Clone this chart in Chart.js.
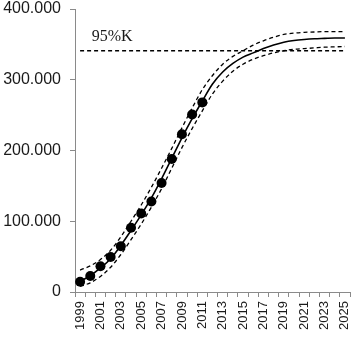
<!DOCTYPE html>
<html>
<head>
<meta charset="utf-8">
<script src="https://cdn.jsdelivr.net/npm/chart.js@4/dist/chart.umd.min.js"></script>
<style>
  html, body { margin: 0; padding: 0; background: #fff; }
  #wrap { width: 355px; height: 345px; position: relative; }
</style>
</head>
<body>
<div id="wrap"><canvas id="chart"></canvas></div>
<script>
const years = ['1999', '2000', '2001', '2002', '2003', '2004', '2005', '2006', '2007', '2008',
    '2009', '2010', '2011', '2012', '2013', '2014', '2015', '2016', '2017', '2018',
    '2019', '2020', '2021', '2022', '2023', '2024', '2025'];
const observed = [14500, 22500, 36500, 49500, 64600, 90800, 111000, 128000, 154000, 188000,
    223000, 251000, 268000];
const fitted = [15000, 23000, 34000, 47000, 66000, 87000, 109000, 133000, 160000, 189000,
    218000, 245000, 270000, 294000, 311000, 323000, 332000, 338000, 344000, 349000,
    353000, 355500, 357000, 358000, 358500, 359000, 359000];
const upper = [31000, 37000, 46000, 59000, 78000, 100000, 123000, 148000, 175000, 203000,
    232000, 260000, 286000, 306000, 322000, 333000, 341000, 349000, 355000, 360000,
    364000, 366000, 367000, 367500, 368000, 368000, 368000];
const lower = [8000, 13000, 22000, 35000, 53000, 74000, 96000, 120000, 146000, 175000,
    204000, 231000, 256000, 280000, 298000, 312000, 322000, 329000, 334000, 338000,
    341000, 343000, 344000, 345000, 346000, 346500, 347000];
const k95 = 341000;
const k95Label = '95%K';
const yTicks = [0, 100000, 200000, 300000, 400000];

const axisColor = '#8a8a8a';
const textColor = '#1a1a1a';

// label above the 95% line
const k95Text = {
    id: 'k95Text',
    afterDatasetsDraw(chart) {
        const ctx = chart.ctx;
        const x = chart.scales.x.getPixelForValue(1) + 1.5;
        const y = chart.scales.y.getPixelForValue(k95) - 10;
        ctx.save();
        ctx.font = '16px "Liberation Serif", serif';
        ctx.fillStyle = textColor;
        ctx.textAlign = 'left';
        ctx.textBaseline = 'alphabetic';
        ctx.fillText(k95Label, x, y);
        ctx.restore();
    }
};

const dashed = {
    borderColor: '#000',
    borderWidth: 1.3,
    borderDash: [4, 3],
    pointRadius: 0,
    fill: false,
    cubicInterpolationMode: 'monotone'
};

new Chart(document.getElementById('chart').getContext('2d'), {
    type: 'line',
    data: {
        labels: years,
        datasets: [
            { label: 'k95', data: years.map(() => k95), ...dashed, cubicInterpolationMode: 'default', tension: 0 },
            { label: 'upper', data: upper, ...dashed },
            { label: 'lower', data: lower, ...dashed },
            {
                label: 'fitted',
                data: fitted,
                borderColor: '#000',
                borderWidth: 1.6,
                pointRadius: 0,
                fill: false,
                cubicInterpolationMode: 'monotone'
            },
            {
                label: 'observed',
                data: observed,
                showLine: false,
                pointRadius: 5,
                pointBackgroundColor: '#000',
                pointBorderColor: '#000',
                pointBorderWidth: 0
            }
        ]
    },
    options: {
        responsive: true,
        maintainAspectRatio: false,
        animation: false,
        layout: { padding: { top: 9, right: 0, left: 0, bottom: 0 } },
        plugins: {
            legend: { display: false },
            tooltip: { enabled: false }
        },
        scales: {
            x: {
                type: 'category',
                offset: true,
                border: { display: true, color: axisColor, width: 1 },
                grid: {
                    offset: true,
                    drawOnChartArea: false,
                    drawTicks: true,
                    tickLength: 5,
                    color: axisColor
                },
                ticks: {
                    autoSkip: false,
                    maxRotation: 90,
                    minRotation: 90,
                    padding: 4,
                    color: textColor,
                    font: { family: '"Liberation Sans", Arial, sans-serif', size: 13 },
                    callback: (v, i) => (i % 2 === 0 ? years[i] : '')
                },
                afterFit(scale) {
                    scale.height = 53;
                    scale.paddingLeft = 0;
                    scale.paddingRight = 0;
                }
            },
            y: {
                min: 0,
                max: 400000,
                border: { display: true, color: axisColor, width: 1 },
                grid: {
                    drawOnChartArea: false,
                    drawTicks: true,
                    tickLength: 5,
                    color: axisColor
                },
                afterBuildTicks(scale) {
                    scale.ticks = yTicks.map(v => ({ value: v }));
                },
                ticks: {
                    padding: 9,
                    color: textColor,
                    font: { family: '"Liberation Sans", Arial, sans-serif', size: 16 },
                    callback: v => v.toString().replace(/\B(?=(\d{3})+(?!\d))/g, '.')
                },
                afterFit(scale) {
                    scale.width = 75;
                    scale.paddingTop = 0;
                    scale.paddingBottom = 0;
                }
            }
        }
    },
    plugins: [k95Text]
});
</script>
</body>
</html>
